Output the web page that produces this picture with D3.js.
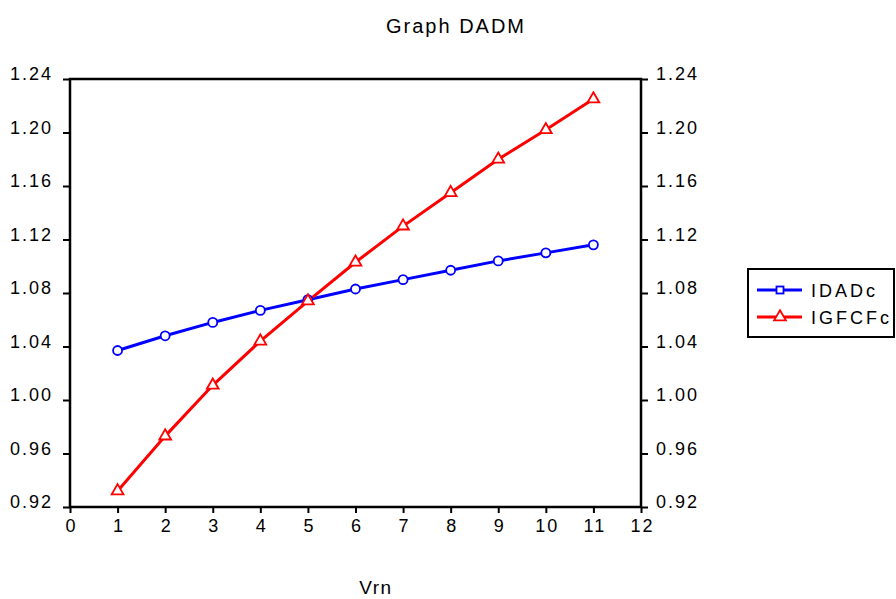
<!DOCTYPE html>
<html>
<head>
<meta charset="utf-8">
<script src="https://cdn.jsdelivr.net/npm/d3@7"></script>
<style>
  body { margin: 0; background: #fff; }
  svg { display: block; font-family: "Liberation Sans", Arial, sans-serif; }
</style>
</head>
<body>
<svg id="chart" width="896" height="599"></svg>
<script>
// chart data
const periods = [1, 2, 3, 4, 5, 6, 7, 8, 9, 10, 11];
const idadc = [1.037, 1.048, 1.058, 1.067, 1.075, 1.083, 1.090, 1.097, 1.104, 1.110, 1.116];
const igfcfc = [0.932, 0.973, 1.011, 1.044, 1.074, 1.103, 1.130, 1.155, 1.180, 1.202, 1.225];
const xTicks = [0, 1, 2, 3, 4, 5, 6, 7, 8, 9, 10, 11, 12];
const yTicks = [0.92, 0.96, 1.00, 1.04, 1.08, 1.12, 1.16, 1.20, 1.24];
const seriesNames = ['IDADc', 'IGFCFc'];

const svg = d3.select('#chart');
const plotLeft = 70, plotRight = 641, plotTop = 79, plotBottom = 507;

const x = d3.scaleLinear().domain([0, 12]).range([plotLeft, plotRight]);
const y = d3.scaleLinear().domain([0.92, 1.24]).range([plotBottom, plotTop]);

// title and x label
svg.append('text')
  .attr('x', 456).attr('y', 33)
  .attr('text-anchor', 'middle')
  .attr('font-size', '20px')
  .attr('letter-spacing', '2px')
  .text('Graph DADM');

svg.append('text')
  .attr('x', 376).attr('y', 594)
  .attr('text-anchor', 'middle')
  .attr('font-size', '19px')
  .attr('letter-spacing', '1.5px')
  .text('Vrn');

// axes
const fmt = d3.format('.2f');

const gx = svg.append('g')
  .attr('transform', `translate(0,${plotBottom})`)
  .call(d3.axisBottom(x).tickValues(xTicks).tickSize(6).tickPadding(6).tickFormat(d3.format('d')));

const gl = svg.append('g')
  .attr('transform', `translate(${plotLeft},0)`)
  .call(d3.axisLeft(y).tickValues(yTicks).tickSize(7).tickPadding(10).tickFormat(fmt));

const gr = svg.append('g')
  .attr('transform', `translate(${plotRight},0)`)
  .call(d3.axisRight(y).tickValues(yTicks).tickSize(7).tickPadding(8).tickFormat(fmt));

[gx, gl, gr].forEach(g => {
  g.select('.domain').remove();
  g.selectAll('.tick line').attr('stroke', '#000').attr('stroke-width', 2);
  g.selectAll('.tick text')
    .attr('fill', '#000')
    .attr('font-size', '18px')
    .attr('letter-spacing', '2px')
    .style('font-family', '"Liberation Sans", Arial, sans-serif');
});
gl.selectAll('.tick text').attr('dy', '0.05em');
gr.selectAll('.tick text').attr('dy', '0.05em');
gx.selectAll('.tick text').attr('dx', '1px');

// frame
svg.append('rect')
  .attr('x', plotLeft).attr('y', plotTop)
  .attr('width', plotRight - plotLeft).attr('height', plotBottom - plotTop)
  .attr('fill', 'none')
  .attr('stroke', '#000')
  .attr('stroke-width', 2.5);

// lines
const line = d3.line().x((d, i) => x(periods[i])).y(d => y(d));

svg.append('path')
  .datum(idadc)
  .attr('d', line)
  .attr('fill', 'none')
  .attr('stroke', '#0000ff')
  .attr('stroke-width', 3);

svg.append('path')
  .datum(igfcfc)
  .attr('d', line)
  .attr('fill', 'none')
  .attr('stroke', '#ff0000')
  .attr('stroke-width', 3);

// markers
svg.selectAll('circle.idadc')
  .data(idadc)
  .enter()
  .append('circle')
  .attr('class', 'idadc')
  .attr('cx', (d, i) => x(periods[i]))
  .attr('cy', d => y(d))
  .attr('r', 4.5)
  .attr('fill', '#fff')
  .attr('stroke', '#0000ff')
  .attr('stroke-width', 1.8);

const tri = d3.symbol().type(d3.symbolTriangle).size(60);

svg.selectAll('path.igfcfc')
  .data(igfcfc)
  .enter()
  .append('path')
  .attr('class', 'igfcfc')
  .attr('d', tri)
  .attr('transform', (d, i) => `translate(${x(periods[i])},${y(d)})`)
  .attr('fill', '#fff')
  .attr('stroke', '#ff0000')
  .attr('stroke-width', 1.8);

// legend
const legend = svg.append('g');
legend.append('rect')
  .attr('x', 748).attr('y', 269)
  .attr('width', 146).attr('height', 68)
  .attr('fill', '#fff')
  .attr('stroke', '#000')
  .attr('stroke-width', 2);

const legendColors = ['#0000ff', '#ff0000'];
seriesNames.forEach((name, i) => {
  const ly = 290 + i * 27;
  legend.append('line')
    .attr('x1', 757).attr('x2', 802)
    .attr('y1', ly).attr('y2', ly)
    .attr('stroke', legendColors[i])
    .attr('stroke-width', 3);
  if (i === 0) {
    legend.append('rect')
      .attr('x', 776.5).attr('y', ly - 3.5)
      .attr('width', 7).attr('height', 7)
      .attr('fill', '#fff')
      .attr('stroke', legendColors[i])
      .attr('stroke-width', 1.8);
  } else {
    legend.append('path')
      .attr('d', tri)
      .attr('transform', `translate(780,${ly})`)
      .attr('fill', '#fff')
      .attr('stroke', legendColors[i])
      .attr('stroke-width', 1.8);
  }
  legend.append('text')
    .attr('x', 811).attr('y', ly + 7)
    .attr('font-size', '18px')
    .attr('letter-spacing', '3px')
    .text(name);
});
</script>
</body>
</html>
